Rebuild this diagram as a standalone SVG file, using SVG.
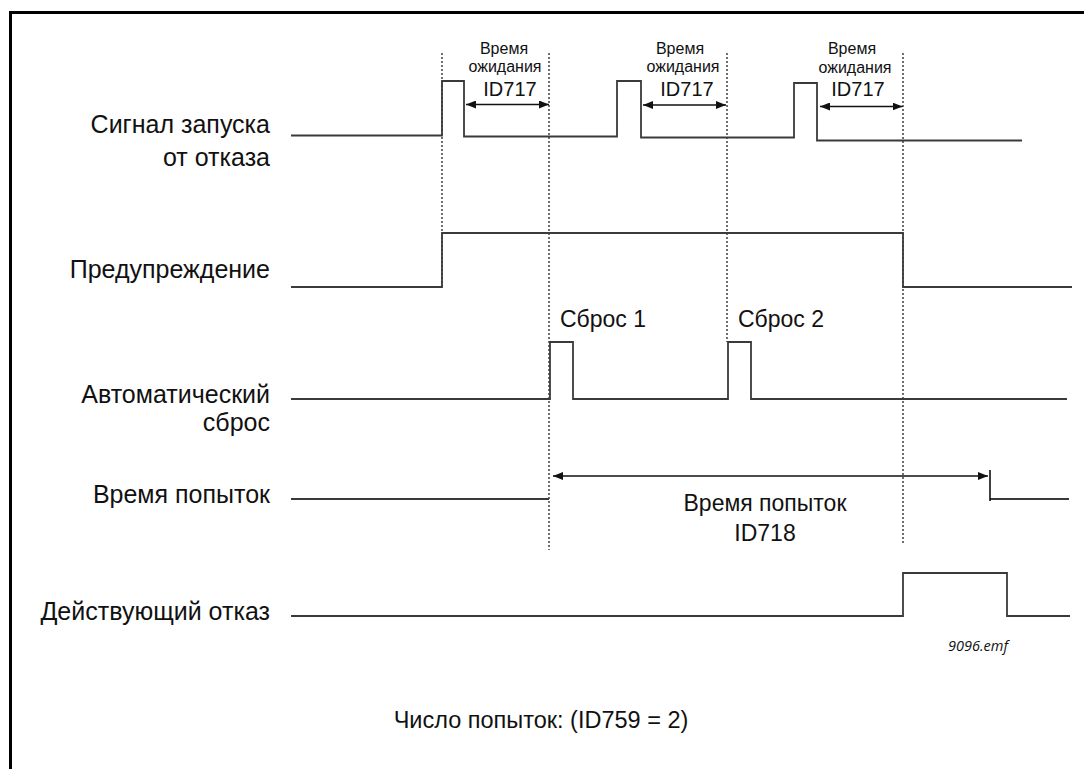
<svg xmlns="http://www.w3.org/2000/svg" width="1084" height="769" viewBox="0 0 1084 769">
<style>
.lbl{font-family:"Liberation Sans",Arial,sans-serif;font-size:25px;fill:#111;text-anchor:end}
.mid{font-family:"Liberation Sans",Arial,sans-serif;font-size:23px;fill:#111;text-anchor:middle}
.small{font-family:"Liberation Sans",Arial,sans-serif;font-size:16px;fill:#111;text-anchor:middle}
.id{font-family:"Liberation Sans",Arial,sans-serif;font-size:20px;fill:#111;text-anchor:middle}
.sig{fill:none;stroke:#3a3a3a;stroke-width:1.8}
.dot{fill:none;stroke:#222;stroke-width:1.3;stroke-dasharray:2 2}
.arr{fill:none;stroke:#111;stroke-width:1.5}
</style>
<defs>
<marker id="ah" viewBox="0 0 10 8" refX="10" refY="4" markerWidth="10" markerHeight="8" markerUnits="userSpaceOnUse" orient="auto-start-reverse">
<path d="M0,0 L10,4 L0,8 Z" fill="#111"/>
</marker>
</defs>
<rect width="1084" height="769" fill="#fff"/>
<g id="frame">
<path d="M9,12.5 H1084 M10.5,11 V769" fill="none" stroke="#000" stroke-width="3"/>
</g>
<g id="guides">
<path class="dot" d="M442,53 V287"/>
<path class="dot" d="M549,53 V550"/>
<path class="dot" d="M727,53 V342"/>
<path class="dot" d="M903,53 V545"/>
</g>
<g id="row-start-signal">
<text class="lbl" x="270" y="133">Сигнал запуска</text>
<text class="lbl" x="270" y="166">от отказа</text>
<path class="sig" d="M291,135.5 H442 V81 H464 V136.5 H617 V81 H641 V137.5 H794 V83 H817 V140.5 H1022"/>
</g>
<g id="row-warning">
<text class="lbl" x="270" y="278">Предупреждение</text>
<path class="sig" d="M291,287 H442 V233 H903 V287 H1072"/>
</g>
<g id="row-auto-reset">
<text class="lbl" x="270" y="403">Автоматический</text>
<text class="lbl" x="270" y="431">сброс</text>
<path class="sig" d="M291,399 H550 V342 H573 V399 H728 V342 H751 V399 H1067"/>
<text class="mid" x="560" y="326.5" style="text-anchor:start">Сброс 1</text>
<text class="mid" x="738" y="326.5" style="text-anchor:start">Сброс 2</text>
</g>
<g id="row-trial-time">
<text class="lbl" x="270" y="503">Время попыток</text>
<path class="sig" d="M291,499 H549 M990,499 H1069"/>
<path d="M990,470 V501" stroke="#111" stroke-width="1.6" fill="none"/>
<text class="mid" x="765" y="511">Время попыток</text>
<text class="mid" x="765" y="541">ID718</text>
</g>
<g id="row-active-fault">
<text class="lbl" x="270" y="620">Действующий отказ</text>
<path class="sig" d="M291,616 H903 V573 H1007 V616 H1070"/>
</g>
<g id="wait-labels">
<text class="small" x="504" y="53.5">Время</text>
<text class="small" x="505" y="72">ожидания</text>
<text class="id" x="510" y="96">ID717</text>
<text class="small" x="680" y="53.5">Время</text>
<text class="small" x="683" y="72">ожидания</text>
<text class="id" x="687" y="96">ID717</text>
<text class="small" x="852" y="54">Время</text>
<text class="small" x="855" y="72.5">ожидания</text>
<text class="id" x="858" y="96">ID717</text>
</g>
<g id="connectors">
<path class="arr" d="M466,104.5 H549" marker-start="url(#ah)" marker-end="url(#ah)"/>
<path class="arr" d="M643,105 H726" marker-start="url(#ah)" marker-end="url(#ah)"/>
<path class="arr" d="M820,106.5 H902.5" marker-start="url(#ah)" marker-end="url(#ah)"/>
<path class="arr" d="M553,476 H988" marker-start="url(#ah)" marker-end="url(#ah)"/>
</g>
<g id="footer">
<text x="1008" y="651" style="font-family:'Open Sans','Liberation Sans',sans-serif;font-style:italic;font-size:14.5px;fill:#111;text-anchor:end">9096.emf</text>
<text x="541" y="728" style="font-family:'Liberation Sans',Arial,sans-serif;font-size:23.5px;fill:#111;text-anchor:middle">Число попыток: (ID759 = 2)</text>
</g>
</svg>
